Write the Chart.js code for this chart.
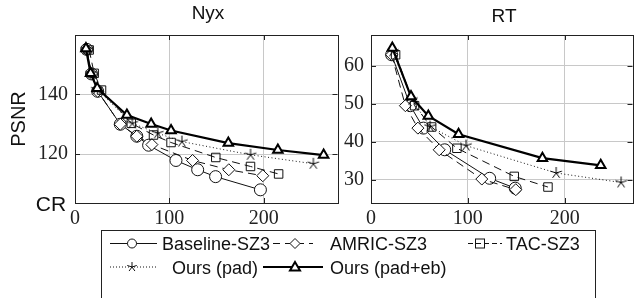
<!DOCTYPE html>
<html>
<head>
<meta charset="utf-8">
<script src="https://cdn.jsdelivr.net/npm/chart.js@4.4.0/dist/chart.umd.min.js"></script>
<style>
  html, body { margin: 0; padding: 0; background: #fff; overflow: hidden; }
  body { width: 636px; height: 298px; position: relative; font-family: "Liberation Sans", Arial, sans-serif; color: #111; }
  canvas { position: absolute; top: 0; }
  .lbl { position: absolute; white-space: nowrap; line-height: 20px; }
  #legend { position: absolute; left: 101px; top: 230px; width: 493px; height: 80px; border: 1px solid #222; }
</style>
</head>
<body>
<canvas id="nyx" width="345" height="230" style="left:0"></canvas>
<canvas id="rt" width="300" height="230" style="left:340px"></canvas>

<div class="lbl" style="left:208px; top:3px; font-size:19px; transform:translateX(-50%)">Nyx</div>
<div class="lbl" style="left:504px; top:6px; font-size:19px; transform:translateX(-50%)">RT</div>
<div class="lbl" style="left:18px; top:119px; font-size:20px; transform:translate(-50%,-50%) rotate(-90deg)">PSNR</div>
<div class="lbl" style="left:51px; top:194px; font-size:21px; transform:translateX(-50%)">CR</div>

<div id="legend"></div>
<svg id="legsym" width="636" height="298" style="position:absolute;left:0;top:0" xmlns="http://www.w3.org/2000/svg"></svg>
<div class="lbl" style="left:162px; top:234px; font-size:18px">Baseline-SZ3</div>
<div class="lbl" style="left:330px; top:234px; font-size:18px">AMRIC-SZ3</div>
<div class="lbl" style="left:506px; top:234px; font-size:18px">TAC-SZ3</div>
<div class="lbl" style="left:172px; top:258px; font-size:18px">Ours (pad)</div>
<div class="lbl" style="left:330px; top:258px; font-size:18px">Ours (pad+eb)</div>

<script>
// ---------- data: Nyx ----------
const nyxBaseCR   = [12.5, 17.5, 24, 48, 65.5, 78, 107, 130, 149, 196.5];
const nyxBasePSNR = [155, 146.8, 141, 130, 126, 123, 117.9, 114.8, 112.5, 108.1];
const nyxAmricCR   = [12.5, 17.5, 24, 48, 65.5, 81.5, 124.6, 163, 199];
const nyxAmricPSNR = [154.8, 146.8, 141, 130, 126, 123.2, 117.9, 114.8, 112.8];
const nyxTacCR   = [15, 20.3, 28.1, 59.7, 83.2, 101.8, 149.2, 186, 215.8];
const nyxTacPSNR = [154.8, 147, 141.4, 130.3, 126.4, 123.9, 118.9, 115.9, 113.4];
const nyxPadCR   = [12, 17, 23, 60.7, 87.7, 113.3, 186, 252.6];
const nyxPadPSNR = [155, 147, 141.7, 130.3, 127, 124.2, 119.8, 116.8];
const nyxEbCR   = [11.6, 16.5, 23.5, 55, 80.7, 101.8, 162.5, 215, 263.5];
const nyxEbPSNR = [155.3, 147, 142, 133.1, 130.1, 127.9, 123.7, 121.4, 119.7];

// ---------- data: RT ----------
const rtBaseCR   = [21.3, 40.6, 54.1, 76.1, 122.5, 148.9];
const rtBasePSNR = [62.9, 49.5, 43.6, 37.9, 30.4, 27.8];
const rtAmricCR   = [21.3, 35.5, 48.4, 70.4, 114.4, 149.5];
const rtAmricPSNR = [62.9, 49.5, 43.6, 37.9, 30.2, 27.4];
const rtTacCR   = [25.4, 45, 62.6, 88.7, 147.9, 182.7];
const rtTacPSNR = [62.9, 49.5, 43.9, 38.3, 30.9, 28.1];
const rtPadCR   = [22.6, 42.3, 61, 98.1, 191.2, 258.2];
const rtPadPSNR = [63.8, 51.1, 44.0, 39.0, 31.8, 29.3];
const rtEbCR   = [22, 41.3, 59.2, 90.4, 177, 237.2];
const rtEbPSNR = [64.7, 51.9, 46.8, 42.0, 35.7, 33.8];

// axis ranges / ticks
const nyxX = [0, 278.2], nyxY = [103.7, 159.8], nyxYStep = 20;
const rtX = [0, 270], rtY = [23.9, 68.1], rtYStep = 10;
const xStep = 100;

const tickFont = { family: "'Liberation Serif', serif", size: 20 };

const zip = (xs, ys) => xs.map((x, i) => ({ x: x, y: ys[i] }));

// 5-armed star marker
function starImage(r) {
    const c = document.createElement('canvas');
    const s = Math.ceil(r * 2 + 4);
    c.width = s; c.height = s;
    const g = c.getContext('2d');
    g.strokeStyle = '#000';
    g.lineWidth = 1;
    g.beginPath();
    for (let k = 0; k < 5; k++) {
        const a = -Math.PI / 2 + k * 2 * Math.PI / 5;
        g.moveTo(s / 2, s / 2);
        g.lineTo(s / 2 + r * Math.cos(a), s / 2 + r * Math.sin(a));
    }
    g.stroke();
    return c;
}

// frame + inner tick marks
const framePlugin = {
    id: 'frame',
    afterDraw(chart) {
        const { ctx, chartArea: a, scales } = chart;
        ctx.save();
        ctx.strokeStyle = '#222';
        ctx.lineWidth = 1;
        ctx.beginPath();
        scales.x.ticks.forEach(t => {
            const px = Math.round(scales.x.getPixelForValue(t.value)) + 0.5;
            ctx.moveTo(px, a.bottom); ctx.lineTo(px, a.bottom - 5);
            ctx.moveTo(px, a.top); ctx.lineTo(px, a.top + 5);
        });
        scales.y.ticks.forEach(t => {
            const py = Math.round(scales.y.getPixelForValue(t.value)) + 0.5;
            ctx.moveTo(a.left, py); ctx.lineTo(a.left + 5, py);
            ctx.moveTo(a.right, py); ctx.lineTo(a.right - 5, py);
        });
        ctx.stroke();
        ctx.strokeRect(Math.round(a.left) + 0.5, Math.round(a.top) + 0.5,
            Math.round(a.right - a.left), Math.round(a.bottom - a.top));
        ctx.restore();
    }
};

function makeSets(base, amric, tac, pad, eb, star) {
    return [
        { data: base, borderColor: '#111', borderWidth: 1, pointStyle: 'circle', pointRadius: 6,
          pointBorderWidth: 1, pointBackgroundColor: '#fff', pointBorderColor: '#111', order: 5 },
        { data: amric, borderColor: '#111', borderWidth: 1, borderDash: [8, 5], pointStyle: 'rectRot', pointRadius: 6,
          pointBorderWidth: 1, pointBackgroundColor: '#fff', pointBorderColor: '#111', order: 4 },
        { data: tac, borderColor: '#111', borderWidth: 1, borderDash: [8, 5], pointStyle: 'rect', pointRadius: 6,
          pointBorderWidth: 1, pointBackgroundColor: 'rgba(255,255,255,0)', pointBorderColor: '#111', order: 3 },
        { data: pad, borderColor: '#111', borderWidth: 1, borderDash: [1, 2.5], pointStyle: star, pointRadius: 6,
          order: 2 },
        { data: eb, borderColor: '#000', borderWidth: 2.2, pointStyle: 'triangle', pointRadius: 5.5,
          pointBorderWidth: 2, pointBackgroundColor: '#fff', pointBorderColor: '#000', order: 1 }
    ].map(d => Object.assign({ type: 'line', tension: 0, fill: false, showLine: true }, d));
}

function makeChart(id, sets, xr, yr, yStep, yWidth, padRight) {
    return new Chart(document.getElementById(id), {
        type: 'scatter',
        data: { datasets: sets },
        options: {
            responsive: false,
            animation: false,
            layout: { padding: { top: 35, right: padRight, left: 0, bottom: 0 } },
            plugins: { legend: { display: false }, tooltip: { enabled: false } },
            scales: {
                x: {
                    type: 'linear', min: xr[0], max: xr[1],
                    ticks: { stepSize: xStep, includeBounds: false, color: '#222', padding: 4, font: tickFont },
                    grid: { color: '#c8c8c8', drawTicks: false },
                    border: { display: true, color: '#222' },
                    afterFit: s => { s.height = 27; }
                },
                y: {
                    type: 'linear', min: yr[0], max: yr[1],
                    ticks: { stepSize: yStep, includeBounds: false, color: '#222', padding: 7, font: tickFont },
                    grid: { color: '#c8c8c8', drawTicks: false },
                    border: { display: true, color: '#222' },
                    afterFit: s => { s.width = yWidth; }
                }
            }
        },
        plugins: [framePlugin]
    });
}

const star = starImage(6);
makeChart('nyx', makeSets(zip(nyxBaseCR, nyxBasePSNR), zip(nyxAmricCR, nyxAmricPSNR), zip(nyxTacCR, nyxTacPSNR),
    zip(nyxPadCR, nyxPadPSNR), zip(nyxEbCR, nyxEbPSNR), star), nyxX, nyxY, nyxYStep, 75, 6);
makeChart('rt', makeSets(zip(rtBaseCR, rtBasePSNR), zip(rtAmricCR, rtAmricPSNR), zip(rtTacCR, rtTacPSNR),
    zip(rtPadCR, rtPadPSNR), zip(rtEbCR, rtEbPSNR), star), rtX, rtY, rtYStep, 31, 3);

// ---------- legend symbols ----------
const svg = document.getElementById('legsym');
function el(tag, attrs) {
    const e = document.createElementNS('http://www.w3.org/2000/svg', tag);
    for (const k in attrs) e.setAttribute(k, attrs[k]);
    svg.appendChild(e);
}
const r1 = 243.5, r2 = 267;
// Baseline
el('line', { x1: 110, y1: r1, x2: 157, y2: r1, stroke: '#111', 'stroke-width': 1 });
el('circle', { cx: 132, cy: r1, r: 4.5, fill: '#fff', stroke: '#111', 'stroke-width': 1 });
// AMRIC
el('line', { x1: 273, y1: r1, x2: 313, y2: r1, stroke: '#111', 'stroke-width': 1, 'stroke-dasharray': '7 5' });
el('polygon', { points: `295,${r1 - 5} 300,${r1} 295,${r1 + 5} 290,${r1}`, fill: '#fff', stroke: '#111', 'stroke-width': 1 });
// TAC
el('line', { x1: 468, y1: r1, x2: 502, y2: r1, stroke: '#111', 'stroke-width': 1, 'stroke-dasharray': '5 3' });
el('rect', { x: 475.5, y: r1 - 4.5, width: 9, height: 9, fill: 'none', stroke: '#111', 'stroke-width': 1 });
// Ours (pad)
el('line', { x1: 110, y1: r2, x2: 157, y2: r2, stroke: '#111', 'stroke-width': 1, 'stroke-dasharray': '1 2' });
for (let k = 0; k < 5; k++) {
    const a = -Math.PI / 2 + k * 2 * Math.PI / 5;
    el('line', { x1: 132, y1: r2, x2: 132 + 5 * Math.cos(a), y2: r2 + 5 * Math.sin(a), stroke: '#111', 'stroke-width': 1 });
}
// Ours (pad+eb)
el('line', { x1: 263, y1: r2, x2: 323, y2: r2, stroke: '#000', 'stroke-width': 2.2 });
el('polygon', { points: `295,${r2 - 5} 300,${r2 + 3.5} 290,${r2 + 3.5}`, fill: '#fff', stroke: '#000', 'stroke-width': 2 });
</script>
</body>
</html>
